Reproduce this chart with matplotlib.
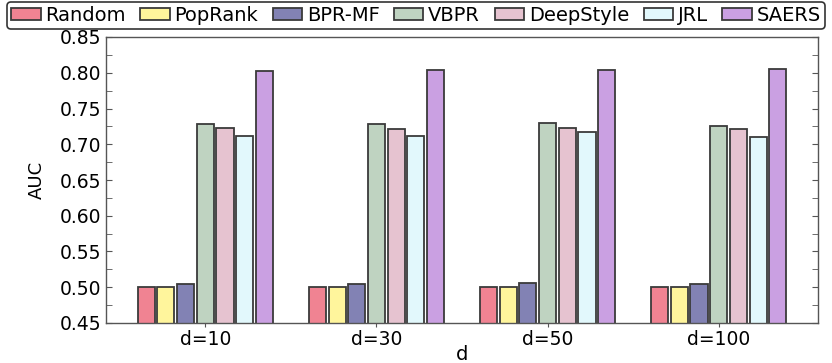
import numpy as np
import matplotlib.pyplot as plt
from matplotlib.ticker import MultipleLocator

# --- data ---
groups = ["d=10", "d=30", "d=50", "d=100"]
methods = ["Random", "PopRank", "BPR-MF", "VBPR", "DeepStyle", "JRL", "SAERS"]
random_auc = [0.500, 0.500, 0.500, 0.500]
poprank_auc = [0.500, 0.500, 0.500, 0.500]
bprmf_auc = [0.504, 0.505, 0.506, 0.504]
vbpr_auc = [0.728, 0.728, 0.730, 0.726]
deepstyle_auc = [0.723, 0.721, 0.723, 0.722]
jrl_auc = [0.711, 0.712, 0.717, 0.710]
saers_auc = [0.802, 0.804, 0.804, 0.805]

colors = ["#f08392", "#fff59c", "#8282b4", "#bfd3c1", "#e6c3d0", "#e2f8fc", "#caa0e2"]
series = [random_auc, poprank_auc, bprmf_auc, vbpr_auc, deepstyle_auc, jrl_auc, saers_auc]

fig = plt.figure(figsize=(8.32, 3.63), dpi=100)
ax = fig.add_axes([106 / 832, 1 - 323 / 363, 712 / 832, 286 / 363])

x = np.arange(len(groups))
step = 0.115
width = 0.1
for i, (name, vals) in enumerate(zip(methods, series)):
    ax.bar(x + (i - 3) * step, vals, width, color=colors[i], edgecolor="#3a3a3a",
           linewidth=1.3, label=name)

ax.set_xlim(-0.58, 3.58)
ax.set_ylim(0.45, 0.85)
ax.yaxis.set_major_locator(MultipleLocator(0.05))
ax.yaxis.set_minor_locator(MultipleLocator(0.025))
ax.set_xticks(x)
ax.set_xticklabels(groups, fontsize=13.5)
ax.tick_params(axis="y", which="both", direction="in", right=True, length=4,
               color="#555555", labelsize=13.5)
ax.tick_params(axis="x", direction="out", length=3, color="#555555", pad=2)
for s in ax.spines.values():
    s.set_color("#555555")
    s.set_linewidth(1.0)

ax.set_xlabel("d", fontsize=14, labelpad=-3)
ax.set_ylabel("AUC", fontsize=13, labelpad=10)

leg = fig.legend(loc="upper center", bbox_to_anchor=(0.5, 1.0), ncol=7, fontsize=14,
                 handlelength=1.5, handleheight=0.6, handletextpad=0.25, columnspacing=0.75,
                 borderpad=0.2, borderaxespad=0.1, fancybox=True, edgecolor="#333333",
                 framealpha=1)
leg.get_frame().set_linewidth(1.2)

fig.savefig("out.png", dpi=100)
